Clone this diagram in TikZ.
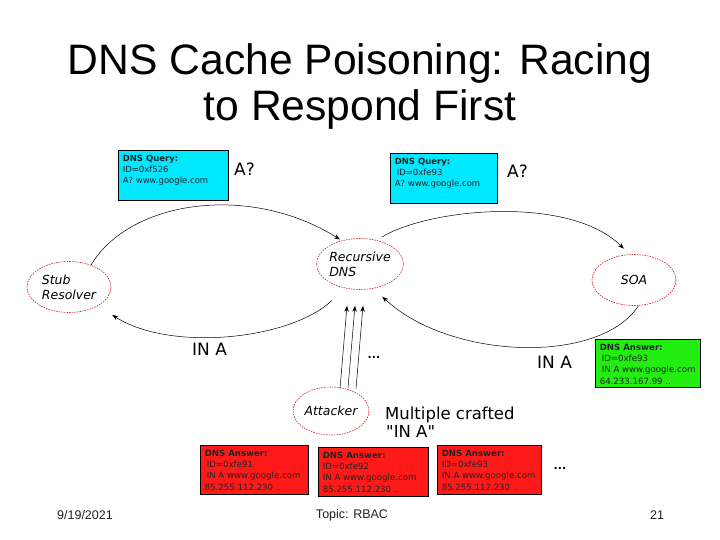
\documentclass[tikz,border=0pt]{standalone}
\usepackage{fontspec}
\setmainfont{DejaVu Sans}
\newfontfamily\titlefont{Liberation Sans}
\newfontfamily\straightfont{DejaVu Sans}[Ligatures=TeXOff]
\usetikzlibrary{arrows.meta,calc,shapes.geometric}
\definecolor{qcyan}{HTML}{00E8FF}
\definecolor{agreen}{HTML}{22EE11}
\definecolor{ared}{HTML}{FF1A1A}
\definecolor{ellred}{HTML}{D02838}
\definecolor{txtgray}{HTML}{222222}
\tikzset{
  ell/.style={ellipse, draw=ellred, line width=0.6pt, dash pattern=on 1.6pt off 1pt,
    inner sep=0pt, minimum width=84pt, minimum height=51pt, align=left,
    font=\itshape\fontsize{12.5}{15}\selectfont},
  box/.style={draw=black, line width=0.8pt, inner sep=0pt},
  boxtxt/.style={anchor=north west, inner sep=0pt, align=left, text=txtgray,
    xshift=5pt, yshift=-5pt},
  qfont/.style={font=\fontsize{8.5}{11.2}\selectfont},
  afont/.style={font=\fontsize{8.6}{11.4}\selectfont},
  lbl/.style={anchor=base west, inner sep=0pt, font=\fontsize{17}{20}\selectfont},
  arr/.style={-{Stealth[length=6pt,width=4.5pt]}, line width=0.5pt, black},
  foot/.style={font=\titlefont\fontsize{12.5}{14}\selectfont, text=txtgray, inner sep=0pt},
  dots/.style={anchor=base, inner sep=0pt, font=\bfseries\fontsize{11}{13}\selectfont}
}
\begin{document}
\begin{tikzpicture}[x=1pt,y=-1pt]
\useasboundingbox (0,0) rectangle (720,540);
\fill[white] (0,0) rectangle (720,540);
% title
\node[anchor=base, inner sep=0pt, font=\titlefont\fontsize{42.6}{46}\selectfont] (t1) at (360,75) {DNS Cache Poisoning: Racing};
\node[anchor=base, inner sep=0pt, font=\titlefont\fontsize{42.6}{46}\selectfont] (t2) at (360,121) {to Respond First};
% ellipses
\node[ell] (stub) at (69,287) {Stub\\Resolver};
\node[ell] (rec) at (360,264) {Recursive\\DNS};
\node[ell] (soa) at (634,280) {SOA};
\node[ell, minimum width=76pt, minimum height=48pt] (att) at (331,411) {Attacker};
% query boxes
\node[box, fill=qcyan, minimum width=110pt, minimum height=50pt] (q1) at (173,175) {};
\node[boxtxt, qfont] (q1t) at (q1.north west) {\textbf{DNS Query:}\\ID=0xf526\\A? www.google.com};
\node[box, fill=qcyan, minimum width=107pt, minimum height=50pt] (q2) at (443.5,178) {};
\node[boxtxt, qfont] (q2t) at (q2.north west) {\textbf{DNS Query:}\\\hspace{2pt}ID=0xfe93\\A? www.google.com};
% answer boxes
\node[box, fill=agreen, minimum width=105pt, minimum height=48pt] (g1) at (647.5,363) {};
\node[boxtxt, afont] (g1t) at (g1.north west) {\textbf{DNS Answer:}\\\hspace{2pt}ID=0xfe93\\\hspace{2pt}IN A www.google.com\\64.233.167.99 ..};
\node[box, fill=ared, minimum width=108pt, minimum height=49pt] (r1) at (254,469.5) {};
\node[boxtxt, afont] (r1t) at (r1.north west) {\textbf{DNS Answer:}\\\hspace{2pt}ID=0xfe91\\\hspace{2pt}IN A www.google.com\\85.255.112.230 ..};
\node[box, fill=ared, minimum width=110pt, minimum height=49pt] (r2) at (373,471.5) {};
\node[boxtxt, afont] (r2t) at (r2.north west) {\textbf{DNS Answer:}\\ID=0xfe92\\IN A www.google.com\\85.255.112.230 ..};
\node[box, fill=ared, minimum width=104pt, minimum height=49pt] (r3) at (489,469.5) {};
\node[boxtxt, afont] (r3t) at (r3.north west) {\textbf{DNS Answer:}\\ID=0xfe93\\IN A www.google.com\\85.255.112.230 ..};
% labels
\node[lbl] (la1) at (234,176) {A?};
\node[lbl] (la2) at (507,178) {A?};
\node[lbl] (lin1) at (192,355) {IN A};
\node[lbl] (lin2) at (537,368) {IN A};
\node[lbl, font=\fontsize{16.5}{19}\selectfont] (mc1) at (385,419) {Multiple crafted};
\node[lbl, font=\straightfont\fontsize{16.5}{19}\selectfont] (mc2) at (386,437) {"IN A"};
\node[dots] (d1) at (374,358) {...};
\node[dots] (d2) at (560,469) {...};
% connectors
\draw[arr, shorten >=2pt] (stub.45) .. controls (130,200) and (250,183) .. (rec.128);
\draw[arr, shorten <=6pt, shorten >=8pt] (rec.55) .. controls (430,208) and (570,195) .. (soa.100);
\draw[arr, shorten >=12pt] (soa.280) .. controls (600,365) and (450,360) .. (rec.299);
\draw[arr, shorten <=18pt, shorten >=17pt] (rec.238) .. controls (290,340) and (170,352) .. (stub.327);
\draw[arr] ([xshift=9pt,yshift=-2pt]att.north) -- ([xshift=-13pt,yshift=-16pt]rec.south);
\draw[arr] ([xshift=17pt,yshift=-1pt]att.north) -- ([xshift=-5pt,yshift=-16pt]rec.south);
\draw[arr] ([xshift=25pt,yshift=-2pt]att.north) -- ([xshift=3pt,yshift=-16pt]rec.south);
% footer
\node[foot] (f1) at (85,515) {9/19/2021};
\node[foot] (f2) at (352,515) {Topic: RBAC};
\node[foot] (f3) at (657,515) {21};
\end{tikzpicture}
\end{document}
